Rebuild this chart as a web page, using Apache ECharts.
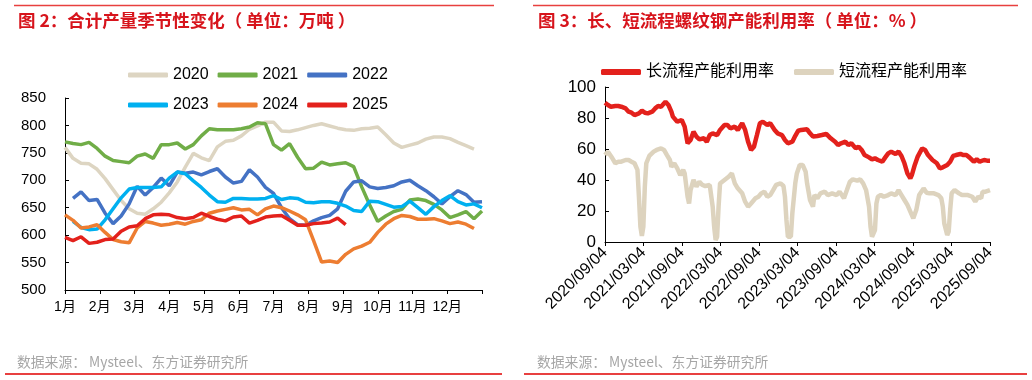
<!DOCTYPE html>
<html><head><meta charset="utf-8">
<script src="https://cdn.jsdelivr.net/npm/echarts@6/dist/echarts.min.js"></script>
<style>html,body{margin:0;padding:0;background:#fff}#c{width:1032px;height:380px}</style>
</head><body><div id="c"></div>
<script>
// ---------- Left chart: weekly output by year (万吨), index = week of year ----------
const monthLabels = ['1月','2月','3月','4月','5月','6月','7月','8月','9月','10月','11月','12月'];
const yearNames = ['2020','2021','2022','2023','2024','2025'];
const y2020 = [760,740,731,730,720,703,683,663,648,640,638,648,660,677,697,724,749,741,736,761,771,773,781,793,799,806,806,790,789,792,796,800,803,799,795,792,791,794,795,797,783,768,760,764,768,775,779,779,776,769,763,757];
const y2021 = [770,767,765,769,758,744,736,734,732,744,748,740,765,765,768,757,765,781,794,792,792,792,794,797,805,803,765,755,767,742,721,722,733,728,730,732,725,688,655,625,635,643,647,664,666,663,656,646,632,637,643,630,644];
const y2022 = [null,667,679,663,665,640,621,635,657,689,673,687,704,690,715,713,715,710,716,721,706,695,698,719,706,687,676,650,630,619,618,626,632,636,648,680,697,699,688,685,687,690,697,700,690,681,670,657,670,681,674,660,661];
const y2023 = [null,625,614,610,611,628,648,668,684,687,687,687,688,704,715,712,699,687,673,661,660,667,667,666,666,667,672,665,668,667,660,659,661,661,658,653,645,643,662,661,656,651,652,662,650,638,652,663,672,661,655,657,650];
const y2024 = [637,627,613,615,619,605,592,588,586,613,625,622,618,620,623,620,625,628,640,644,647,650,646,647,637,648,653,650,644,637,628,590,551,553,550,565,575,580,587,605,620,630,636,634,629,629,630,626,621,624,620,612];
const y2025 = [596,590,597,585,587,592,593,607,615,617,630,637,638,637,632,630,632,640,634,629,626,633,635,622,627,633,635,636,627,618,618,621,622,624,631,619];
const yearColors = ['#DDD5C2','#70AD47','#4472C4','#00B0F0','#ED7D31','#E3211C'];

// ---------- Right chart: capacity utilisation (%), x = week since 2020/09/04 ----------
const dateLabels = ['2020/09/04','2021/03/04','2021/09/04','2022/03/04','2022/09/04','2023/03/04','2023/09/04','2024/03/04','2024/09/04','2025/03/04','2025/09/04'];
const rateNames = ['长流程产能利用率','短流程产能利用率'];
const longWeek = [0,2,4,7,9,11,14,16,18,20,23,25,27,29,32,34,36,38,41,42,43,45,46,49,52,54,56,58,60,62,64,67,69,71,73,76,78,81,83,85,88,90,93,95,97,99,101,103,105,107,110,112,115,117,120,122,124,127,129,131,133,137,139,141,144,147,150,153,156,158,160,163,165,167,170,172,174,176,179,181,183,185,188,190,192,194,197,199,201,203,205,207,208,210,212,215,217,219,222,225,227,229,232,234,236,238,241,243,245,247,250,252,254,257,259,261];
const longRate = [89.9,88.4,87.3,87.7,87.7,87.3,86.2,84.1,83.4,81.9,83,84.7,83.4,83,84.1,86.2,87.7,87.3,90.5,91.2,88.4,84.1,80.9,77.6,78.7,74.4,63.7,65.8,71.2,68,66.2,66.9,64.7,69,70.1,69,72.3,75.5,75.5,73.3,74.4,72.3,76.6,72.3,64.7,59.4,61.5,69,76.6,77.6,75.5,76.6,72.3,70.1,69,65.8,63.7,64.7,68.5,71.8,72.3,72.7,70.1,68,68.4,69,69.7,66.9,64.7,62.6,63.7,64.7,62.6,63.7,60.4,61.5,59.4,56.1,54.6,53.3,54,52.9,51.8,54.6,57.2,58.3,56.8,58.3,55.5,50.8,44.3,41.1,43.2,49.7,55.1,60.4,59.4,56.1,52.9,50.8,47.5,48.2,49.7,51.8,55.5,56.1,56.8,56.1,56.1,54.6,51.8,53.3,51.8,52.9,52.5,52.5];
const shortWeek = [0,2,3,5,7,9,11,14,16,18,20,22,23,24,25,26,27,28,30,33,35,38,40,42,44,45,47,49,51,53,54,56,57,58,60,62,64,66,68,71,72,73,74,75,76,77,78,81,84,86,88,90,93,95,97,99,102,104,106,108,110,112,114,116,119,121,122,123,124,126,127,129,130,132,134,136,137,139,141,142,144,146,149,151,154,157,159,162,164,166,168,171,173,175,177,179,180,181,183,184,185,187,189,192,194,197,199,201,203,205,207,209,211,213,216,218,220,223,226,228,229,230,232,233,234,235,237,240,242,244,246,249,251,253,255,256,258,261];
const shortRate = [56.1,58.3,59.4,54,50.8,51.8,51.8,52.9,52.9,51.8,50.8,46.5,29.2,9.9,3.9,9.9,35.7,50.8,55.5,58.3,59.4,60.4,59.4,56.1,52.9,48.6,50.8,47.5,43.2,46.5,44.3,29.2,24.9,33.5,40,35.7,38.9,36.8,36.1,36.8,35.7,22.8,9.9,1.3,3.4,22.8,37.8,40,42.2,44.3,37.8,34.6,31.4,26,22.8,24.9,28.2,29.2,31.4,32.5,29.2,30.3,33.5,36.8,37.8,36.1,29.2,14.2,3.4,3.4,18.5,38,44,49.7,49.7,45.4,37.8,27.1,22.8,30.3,28.2,31.4,32.5,30.3,31.4,30.3,32.5,28.2,33.5,38.9,40.4,39.6,40.4,37.8,33.5,22.8,9.9,3.4,7.7,24.9,29.2,30.3,29.2,30.3,31.4,30.3,33.5,30.3,27.1,23.9,19.6,15.3,20.6,30.3,34.6,31.8,31.4,31.4,30.3,28.2,22.8,12,4.5,6.7,20.6,31.4,33.5,31.4,30.3,30.3,30.3,29.2,26,29.2,28.2,32.5,32.5,33.5];
const rateColors = ['#E3211C','#DDD3BE'];

const FONT = "'Liberation Sans','Noto Sans CJK SC',sans-serif";
const CJK = "'Noto Sans CJK SC',sans-serif";

const chart = echarts.init(document.getElementById('c'));
const yearData = [y2020,y2021,y2022,y2023,y2024,y2025];
const leftSeries = yearNames.map((name, k) => ({
  name, type: 'line', xAxisIndex: 0, yAxisIndex: 0, symbol: 'none',
  lineStyle: { width: 3.5, color: yearColors[k] }, itemStyle: { color: yearColors[k] },
  data: yearData[k].map((v, i) => [i * 12 / 52, v]).filter(p => p[1] != null)
}));
const rightSeries = [
  { name: rateNames[0], week: longWeek, val: longRate },
  { name: rateNames[1], week: shortWeek, val: shortRate }
].map((s, k) => ({
  name: s.name, type: 'line', xAxisIndex: 1, yAxisIndex: 1, symbol: 'none',
  lineStyle: { width: 4.5, color: rateColors[k] }, itemStyle: { color: rateColors[k] },
  data: s.week.map((w, i) => [w * 60 / 261, s.val[i]])
}));

const legendBase = { icon: 'roundRect', itemWidth: 40, itemHeight: 5, padding: 0,
  textStyle: { fontSize: 16, color: '#000', fontFamily: FONT } };

chart.setOption({
  animation: false,
  backgroundColor: '#fff',
  title: [
    { text: '图 2：合计产量季节性变化（ 单位：万吨 ）', left: 18, top: 12, padding: 0,
      textStyle: { color: '#D7141C', fontSize: 17.5, fontWeight: 'bold', fontFamily: CJK } },
    { text: '图 3：长、短流程螺纹钢产能利用率（ 单位：% ）', left: 538, top: 12, padding: 0,
      textStyle: { color: '#D7141C', fontSize: 17.5, fontWeight: 'bold', fontFamily: CJK } }
  ],
  legend: [
    Object.assign({}, legendBase, { data: yearNames.slice(0, 3), left: 128, top: 67, itemGap: 9 }),
    Object.assign({}, legendBase, { data: yearNames.slice(3), left: 128, top: 97, itemGap: 9 }),
    Object.assign({}, legendBase, { data: rateNames, left: 601, top: 64, itemGap: 20, itemHeight: 6 })
  ],
  grid: [
    { left: 65, top: 98, width: 417, height: 192 },
    { left: 605, top: 87, width: 385, height: 155 }
  ],
  xAxis: [
    { gridIndex: 0, type: 'value', min: 0, max: 12, interval: 1,
      axisLine: { show: true, lineStyle: { color: '#000', width: 1 } },
      axisTick: { show: true, inside: false, length: 4, lineStyle: { color: '#000' } },
      splitLine: { show: false },
      axisLabel: { formatter: v => monthLabels[v] || '', fontSize: 14, color: '#000', margin: 10, fontFamily: FONT } },
    { gridIndex: 1, type: 'value', min: 0, max: 60, interval: 6,
      axisLine: { show: true, lineStyle: { color: '#000', width: 1 } },
      axisTick: { show: true, inside: false, length: 4, lineStyle: { color: '#000' } },
      splitLine: { show: false },
      axisLabel: { formatter: v => dateLabels[Math.round(v / 6)] || '', rotate: 45, fontSize: 16, color: '#000', margin: 8, fontFamily: FONT } }
  ],
  yAxis: [
    { gridIndex: 0, type: 'value', min: 500, max: 850, interval: 50,
      axisLine: { show: true, lineStyle: { color: '#000', width: 1 } },
      axisTick: { show: true, inside: true, length: 4, lineStyle: { color: '#000' } },
      splitLine: { show: false },
      axisLabel: { fontSize: 15, color: '#000', margin: 19, fontFamily: FONT } },
    { gridIndex: 1, type: 'value', min: 0, max: 100, interval: 20,
      axisLine: { show: true, lineStyle: { color: '#000', width: 1 } },
      axisTick: { show: true, inside: true, length: 4, lineStyle: { color: '#000' } },
      splitLine: { show: false },
      axisLabel: { fontSize: 17, color: '#000', margin: 9, fontFamily: FONT } }
  ],
  graphic: [
    { type: 'line', shape: { x1: 14, y1: 5.5, x2: 494, y2: 5.5 }, style: { stroke: '#E8403F', lineWidth: 1.5 } },
    { type: 'line', shape: { x1: 533, y1: 5.5, x2: 1018, y2: 5.5 }, style: { stroke: '#E8403F', lineWidth: 1.5 } },
    { type: 'line', shape: { x1: 5, y1: 374, x2: 502, y2: 374 }, style: { stroke: '#E00000', lineWidth: 1.5 } },
    { type: 'line', shape: { x1: 524, y1: 374, x2: 1027, y2: 374 }, style: { stroke: '#E00000', lineWidth: 1.5 } },
    { type: 'text', left: 17, top: 355, style: { text: '数据来源： Mysteel、东方证券研究所', fill: '#A6A6A6', font: "13.8px 'Noto Sans CJK SC',sans-serif" } },
    { type: 'text', left: 537, top: 355, style: { text: '数据来源： Mysteel、东方证券研究所', fill: '#A6A6A6', font: "13.8px 'Noto Sans CJK SC',sans-serif" } }
  ],
  series: leftSeries.concat(rightSeries)
});
</script></body></html>
